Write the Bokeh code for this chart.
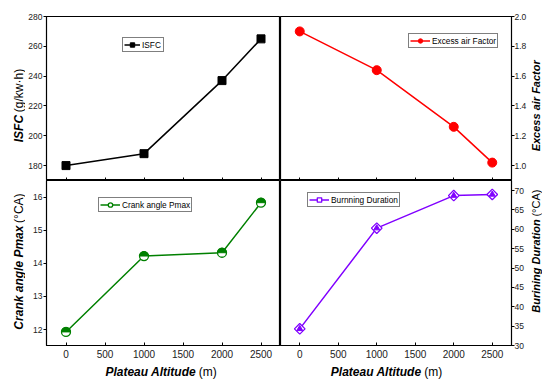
import math
from bokeh.plotting import figure
from bokeh.layouts import gridplot
from bokeh.models import (Range1d, FixedTicker, Legend, LegendItem, Label,
                          NumeralTickFormatter)
from bokeh.embed import file_html
from bokeh.resources import INLINE

# ---- data -------------------------------------------------------------
altitude = [0, 1000, 2000, 2500]
isfc = [180, 188, 237, 265]
excess_air = [1.90, 1.64, 1.26, 1.02]
crank_pmax = [11.93, 14.22, 14.32, 15.83]
burn_duration = [34.3, 60.3, 68.7, 69.0]

x_ticks = [0, 500, 1000, 1500, 2000, 2500]
isfc_ticks = [180, 200, 220, 240, 260, 280]
excess_ticks = [1.0, 1.2, 1.4, 1.6, 1.8, 2.0]
crank_ticks = [12, 13, 14, 15, 16]
burn_ticks = [30, 35, 40, 45, 50, 55, 60, 65, 70]

FONT = "Liberation Sans"
GREEN = "#008000"
RED = "#FF0000"
VIOLET = "#8000FF"

# layout sizes (px)
TITLE_W = 25          # strip holding the left axis titles
LEFT_B = 20           # left tick-label border
RIGHT_B = 18          # right tick-label border
LEFT_FRAME = 235
RIGHT_FRAME = 231
EDGE_W = 542 - TITLE_W - LEFT_B - LEFT_FRAME - RIGHT_FRAME - RIGHT_B
TOP_H = 180
BOT_FRAME = 165
BOT_B = 18
BOT_H = BOT_FRAME + BOT_B
XTITLE_H = 380 - TOP_H - BOT_H
GAP = 3               # space between a title's name and its unit


def make_panel(y_range, yticks, side, bottom_row):
    left = side == "left"
    p = figure(width=(LEFT_FRAME + LEFT_B) if left else (RIGHT_FRAME + RIGHT_B),
               height=BOT_H if bottom_row else TOP_H,
               output_backend="svg", toolbar_location=None,
               x_range=Range1d(-250, 2750), y_range=Range1d(*y_range),
               y_axis_location=side,
               min_border_left=LEFT_B if left else 0,
               min_border_right=0 if left else RIGHT_B,
               min_border_top=0 if bottom_row else 16,
               min_border_bottom=BOT_B if bottom_row else 0)
    p.grid.visible = False
    p.outline_line_color = "black"
    p.outline_line_width = 1.2
    p.background_fill_color = "white"
    p.border_fill_color = "white"

    xa = p.xaxis[0]
    xa.ticker = FixedTicker(ticks=x_ticks)
    xa.major_tick_in = 3
    xa.major_tick_out = 0
    xa.minor_tick_line_color = None
    xa.axis_line_color = "black"
    xa.major_tick_line_color = "black"
    xa.major_label_text_font = FONT
    xa.major_label_text_font_size = "10px"
    xa.major_label_text_color = "#222222"
    if bottom_row:
        xa.major_label_standoff = 4
    else:
        xa.major_label_overrides = {t: "" for t in x_ticks}
        xa.major_label_standoff = 0

    ya = p.yaxis[0]
    ya.ticker = FixedTicker(ticks=yticks)
    ya.major_tick_in = 0
    ya.major_tick_out = 3
    ya.minor_tick_line_color = None
    ya.axis_line_color = "black"
    ya.major_tick_line_color = "black"
    ya.major_label_text_font = FONT
    ya.major_label_text_font_size = "8.5px"
    ya.major_label_text_color = "#222222"
    ya.major_label_standoff = 1 if left else 0
    return p


def title_strip(width, height):
    """Blank figure whose frame is the whole canvas; holds axis titles."""
    s = figure(width=width, height=height, output_backend="svg",
               toolbar_location=None,
               x_range=Range1d(0, width), y_range=Range1d(0, height),
               x_axis_location=None, y_axis_location=None,
               min_border=0, min_border_left=0, min_border_right=0,
               min_border_top=0, min_border_bottom=0)
    s.grid.visible = False
    s.outline_line_color = None
    s.background_fill_color = "white"
    s.border_fill_color = "white"
    return s


def add_title(s, x, y, bold, normal, vertical, size="12px"):
    """Axis title: bold-italic name followed by a plain unit, joined at (x, y)."""
    angle = math.pi / 2 if vertical else 0
    common = dict(angle=angle, text_font=FONT, text_font_size=size,
                  text_color="black", text_baseline="middle")
    if normal:
        s.add_layout(Label(x=x, y=y, text=bold, text_font_style="bold italic",
                           text_align="right", **common))
        nx, ny = (x, y + GAP) if vertical else (x + GAP, y)
        s.add_layout(Label(x=nx, y=ny, text=normal, text_font_style="normal",
                           text_align="left", **common))
    else:
        s.add_layout(Label(x=x, y=y, text=bold, text_font_style="bold italic",
                           text_align="center", **common))


def add_legend(p, items, loc, glyph_width):
    lg = Legend(items=items, location=loc, orientation="vertical",
                border_line_color="black", border_line_width=1,
                background_fill_color="white", background_fill_alpha=1,
                padding=1, spacing=0, margin=0,
                glyph_width=glyph_width, glyph_height=11,
                label_standoff=2, label_height=10,
                label_text_font=FONT, label_text_font_size="8.3px",
                label_text_color="black")
    p.add_layout(lg)


# ---- ISFC (top left) --------------------------------------------------
p1 = make_panel((170, 280), isfc_ticks, "left", False)
l1 = p1.line(altitude, isfc, line_color="black", line_width=1.5)
s1 = p1.scatter(altitude, isfc, marker="square", size=8,
                fill_color="black", line_color="black")
add_legend(p1, [LegendItem(label="ISFC", renderers=[l1, s1])], (76, 128), 16)

# ---- Excess air factor (top right) ------------------------------------
p2 = make_panel((0.9, 2.0), excess_ticks, "right", False)
p2.yaxis[0].formatter = NumeralTickFormatter(format="0.0")
l2 = p2.line(altitude, excess_air, line_color=RED, line_width=1.5)
s2 = p2.scatter(altitude, excess_air, marker="circle", size=9,
                fill_color=RED, line_color=RED)
add_legend(p2, [LegendItem(label="Excess air Factor", renderers=[l2, s2])],
           (128, 132), 20)

# ---- Crank angle of peak pressure (bottom left) -----------------------
p3 = make_panel((11.52, 16.5), crank_ticks, "left", True)
l3 = p3.line(altitude, crank_pmax, line_color=GREEN, line_width=1.5)
s3 = p3.scatter(altitude, crank_pmax, marker="circle", size=9,
                fill_color="white", line_color=GREEN, line_width=1.3)
p3.wedge(altitude, crank_pmax, radius=4.5, radius_units="screen",
         start_angle=0, end_angle=math.pi, fill_color=GREEN, line_color=GREEN)
add_legend(p3, [LegendItem(label="Crank angle Pmax", renderers=[l3, s3])],
           (52, 133), 20)

# ---- Burning duration (bottom right) ----------------------------------
p4 = make_panel((30, 72.6), burn_ticks, "right", True)
l4 = p4.line(altitude, burn_duration, line_color=VIOLET, line_width=1.5)
s4 = p4.scatter(altitude, burn_duration, marker="square", angle=math.pi / 4,
                size=7.5, fill_color="white", line_color=VIOLET, line_width=1.3)
p4.scatter(altitude, burn_duration, marker="triangle", size=6,
           fill_color=VIOLET, line_color=VIOLET)
add_legend(p4, [LegendItem(label="Burnning Duration", renderers=[l4, s4])],
           (27, 138), 20)

# ---- axis titles (strip coordinates: px from the strip's bottom-left) ---
t_left_top = title_strip(TITLE_W, TOP_H)
add_title(t_left_top, TITLE_W - 6.8, 72, "ISFC", "(g/kw\u00b7h)", True)

t_left_bot = title_strip(TITLE_W, BOT_H)
add_title(t_left_bot, TITLE_W - 6.8, 115 + BOT_B, "Crank angle Pmax",
          "(\u00b0CA)", True)

t_right_top = title_strip(EDGE_W, TOP_H)
add_title(t_right_top, EDGE_W - 6.4, 82, "Excess air Factor", None, True,
          size="11px")

t_right_bot = title_strip(EDGE_W, BOT_H)
add_title(t_right_bot, EDGE_W - 6.4, 122 + BOT_B, "Burining Duration",
          "(\u00b0CA)", True, size="11px")

t_x_left = title_strip(LEFT_B + LEFT_FRAME, XTITLE_H)
add_title(t_x_left, 188 - TITLE_W, 9, "Plateau Altitude", "(m)", False)
t_x_right = title_strip(RIGHT_FRAME + RIGHT_B, XTITLE_H)
add_title(t_x_right, 152, 9, "Plateau Altitude", "(m)", False)

grid = gridplot([[t_left_top, p1, p2, t_right_top],
                 [t_left_bot, p3, p4, t_right_bot],
                 [None, t_x_left, t_x_right, None]],
                toolbar_location=None)

open("out.html", "w").write(file_html(grid, INLINE))
